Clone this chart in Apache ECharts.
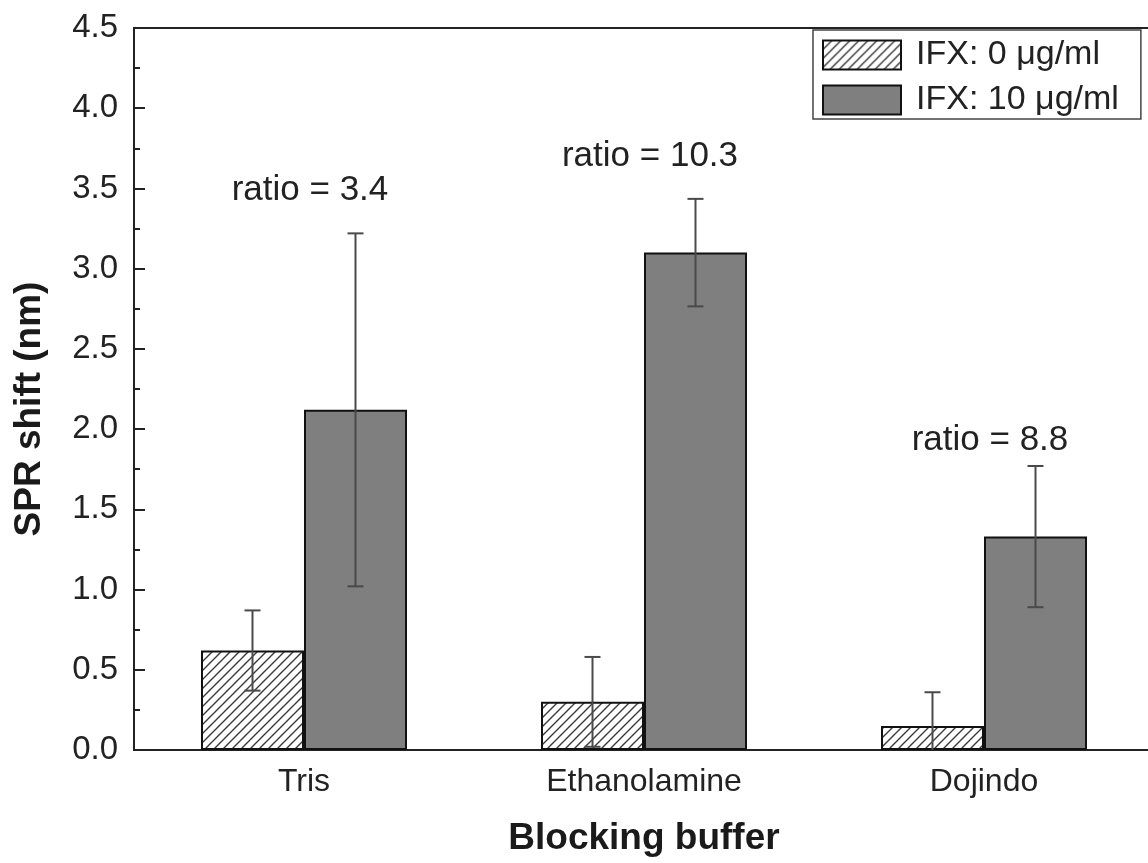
<!DOCTYPE html>
<html>
<head>
<meta charset="utf-8">
<script src="https://cdn.jsdelivr.net/npm/echarts@6/dist/echarts.min.js"></script>
<style>
html,body{margin:0;padding:0;background:#fff;}
#main{width:1148px;height:863px;}
</style>
</head>
<body>
<div id="main"></div>
<script>
// ---- data ----
var categories = ['Tris', 'Ethanolamine', 'Dojindo'];
var seriesNames = ['IFX: 0 \u03bcg/ml', 'IFX: 10 \u03bcg/ml'];
var ifx0 = [0.62, 0.30, 0.15];
var ifx0Err = [0.25, 0.28, 0.21];
var ifx10 = [2.12, 3.10, 1.33];
var ifx10Err = [1.10, 0.335, 0.44];
var ratioTexts = ['ratio = 3.4', 'ratio = 10.3', 'ratio = 8.8'];
var ratioY = [3.49, 3.70, 1.93];
var yTicks = [0, 0.5, 1.0, 1.5, 2.0, 2.5, 3.0, 3.5, 4.0, 4.5];

// ---- styling ----
var FONT = '"Liberation Sans", Arial, Helvetica, sans-serif';
var BAR_W = 103;

function hatchPattern() {
  var s = 9;
  var c = document.createElement('canvas');
  c.width = s; c.height = s;
  var ctx = c.getContext('2d');
  ctx.fillStyle = '#ffffff';
  ctx.fillRect(0, 0, s, s);
  ctx.strokeStyle = '#3a3a3a';
  ctx.lineWidth = 1.4;
  ctx.beginPath();
  ctx.moveTo(-1, s + 1); ctx.lineTo(s + 1, -1);
  ctx.moveTo(-1, 1); ctx.lineTo(1, -1);
  ctx.moveTo(s - 1, s + 1); ctx.lineTo(s + 1, s - 1);
  ctx.stroke();
  return { image: c, repeat: 'repeat' };
}

function errData(vals, errs) {
  return vals.map(function (v, i) { return [i, v - errs[i], v + errs[i]]; });
}

function errRender(offset) {
  return function (params, api) {
    var i = api.value(0);
    var lo = api.coord([i, api.value(1)]);
    var hi = api.coord([i, api.value(2)]);
    var x = lo[0] + offset;
    var cap = 8;
    var st = { stroke: '#4a4a4a', lineWidth: 2 };
    return {
      type: 'group',
      children: [
        { type: 'line', shape: { x1: x, y1: lo[1], x2: x, y2: hi[1] }, style: st },
        { type: 'line', shape: { x1: x - cap, y1: hi[1], x2: x + cap, y2: hi[1] }, style: st },
        { type: 'line', shape: { x1: x - cap, y1: lo[1], x2: x + cap, y2: lo[1] }, style: st }
      ]
    };
  };
}

var chart = echarts.init(document.getElementById('main'), null, { renderer: 'canvas' });

var option = {
  backgroundColor: '#ffffff',
  animation: false,
  textStyle: { fontFamily: FONT },
  grid: {
    left: 134, top: 28, width: 1020, bottom: 113,
    outerBoundsMode: 'none',
    containLabel: false,
    show: true, borderColor: '#222', borderWidth: 2, backgroundColor: 'transparent'
  },
  legend: {
    orient: 'vertical',
    left: 813, top: 30,
    padding: [8, 22, 2, 9],
    itemWidth: 78, itemHeight: 29,
    itemGap: 11,
    icon: 'rect',
    borderColor: '#444', borderWidth: 1.5,
    backgroundColor: '#fff',
    textStyle: { fontFamily: FONT, fontSize: 34, lineHeight: 29, color: '#222', padding: [0, 0, 0, 10] },
    data: seriesNames
  },
  xAxis: {
    type: 'category',
    data: categories,
    name: 'Blocking buffer',
    nameLocation: 'middle',
    nameGap: 70,
    nameTextStyle: { fontFamily: FONT, fontSize: 37, fontWeight: 'bold', color: '#1a1a1a', verticalAlign: 'top' },
    axisLine: { show: true, lineStyle: { color: '#222', width: 2 } },
    axisTick: { show: false },
    axisLabel: { fontFamily: FONT, fontSize: 32, color: '#222', margin: 16 },
    splitLine: { show: false }
  },
  yAxis: {
    type: 'value',
    min: 0, max: 4.5, interval: 0.5,
    name: 'SPR shift (nm)',
    nameLocation: 'middle',
    nameGap: 86,
    nameTextStyle: { fontFamily: FONT, fontSize: 37, fontWeight: 'bold', color: '#1a1a1a', padding: [0, 40, 0, 0] },
    axisLine: { show: true, lineStyle: { color: '#222', width: 2 } },
    axisTick: { show: true, inside: true, length: 11, lineStyle: { color: '#222', width: 2 } },
    minorTick: { show: true, splitNumber: 2, length: 6, lineStyle: { color: '#222', width: 2 } },
    axisLabel: {
      fontFamily: FONT, fontSize: 33, color: '#222', margin: 16,
      formatter: function (v) {
        var t = yTicks.filter(function (k) { return Math.abs(k - v) < 1e-9; });
        return t.length ? t[0].toFixed(1) : '';
      }
    },
    splitLine: { show: false },
    minorSplitLine: { show: false }
  },
  series: [
    {
      name: seriesNames[0], type: 'bar', data: ifx0,
      barWidth: BAR_W, barGap: '0%',
      itemStyle: { color: hatchPattern(), borderColor: '#111', borderWidth: 2 },
      z: 2
    },
    {
      name: seriesNames[1], type: 'bar', data: ifx10,
      barWidth: BAR_W, barGap: '0%',
      itemStyle: { color: '#7f7f7f', borderColor: '#111', borderWidth: 2 },
      z: 2
    },
    {
      type: 'custom', name: 'err0', data: errData(ifx0, ifx0Err),
      renderItem: errRender(-BAR_W / 2), clip: true, z: 5,
      encode: { x: 0, y: [1, 2] }, silent: true
    },
    {
      type: 'custom', name: 'err10', data: errData(ifx10, ifx10Err),
      renderItem: errRender(BAR_W / 2), clip: true, z: 5,
      encode: { x: 0, y: [1, 2] }, silent: true
    },
    {
      type: 'custom', name: 'ratio',
      data: ratioTexts.map(function (t, i) { return [i, ratioY[i], t]; }),
      encode: { x: 0, y: 1 }, silent: true, z: 6,
      renderItem: function (params, api) {
        var p = api.coord([api.value(0), api.value(1)]);
        return {
          type: 'text',
          style: {
            x: p[0] + 6, y: p[1],
            text: ratioTexts[params.dataIndex],
            fontFamily: FONT, fontSize: 35, fill: '#222',
            align: 'center', verticalAlign: 'middle'
          }
        };
      }
    }
  ]
};
chart.setOption(option);
</script>
</body>
</html>
